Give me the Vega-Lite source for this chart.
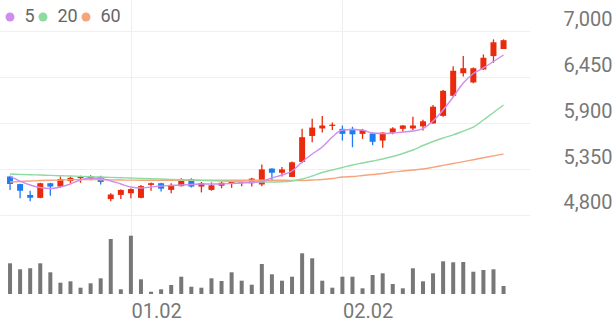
{
  "$schema": "https://vega.github.io/schema/vega-lite/v6.json",
  "width": 530,
  "height": 294,
  "autosize": {"type": "none"},
  "padding": {"left": 0, "top": 0, "right": 86, "bottom": 27},
  "background": "white",
  "config": {
    "view": {"stroke": null},
    "font": "Roboto",
    "axisY": {
      "grid": true, "gridColor": "#f0f0f0", "domain": false, "ticks": false,
      "labelPadding": 82, "labelAlign": "right", "labelBaseline": "alphabetic",
      "labelOffset": -6, "labelFontSize": 20, "labelColor": "#777777", "title": null
    }
  },
  "data": {"values": [
    {"i":0,"o":5260,"h":5270,"l":5100,"c":5170,"v":307,"m5":5266,"m20":5290,"m60":5194},
    {"i":1,"o":5170,"h":5175,"l":5000,"c":5090,"v":247,"m5":5206,"m20":5286,"m60":5200},
    {"i":2,"o":5040,"h":5090,"l":4965,"c":5005,"v":257,"m5":5159,"m20":5282,"m60":5206},
    {"i":3,"o":5005,"h":5185,"l":5000,"c":5180,"v":307,"m5":5129,"m20":5278,"m60":5212},
    {"i":4,"o":5180,"h":5185,"l":5030,"c":5140,"v":217,"m5":5117,"m20":5274,"m60":5216},
    {"i":5,"o":5140,"h":5260,"l":5125,"c":5230,"v":113,"m5":5135,"m20":5270,"m60":5218},
    {"i":6,"o":5205,"h":5260,"l":5180,"c":5245,"v":127,"m5":5171,"m20":5266,"m60":5221},
    {"i":7,"o":5240,"h":5270,"l":5185,"c":5255,"v":63,"m5":5219,"m20":5262,"m60":5223},
    {"i":8,"o":5230,"h":5275,"l":5215,"c":5265,"v":107,"m5":5243,"m20":5258,"m60":5224},
    {"i":9,"o":5255,"h":5270,"l":5165,"c":5195,"v":157,"m5":5237,"m20":5254,"m60":5222},
    {"i":10,"o":4990,"h":5060,"l":4965,"c":5045,"v":550,"m5":5207,"m20":5250,"m60":5220},
    {"i":11,"o":5040,"h":5105,"l":4990,"c":5100,"v":47,"m5":5171,"m20":5246,"m60":5218},
    {"i":12,"o":5060,"h":5120,"l":5000,"c":5110,"v":583,"m5":5135,"m20":5242,"m60":5217},
    {"i":13,"o":5005,"h":5160,"l":5000,"c":5145,"v":147,"m5":5123,"m20":5238,"m60":5216},
    {"i":14,"o":5160,"h":5190,"l":5090,"c":5180,"v":23,"m5":5135,"m20":5234,"m60":5216},
    {"i":15,"o":5180,"h":5185,"l":5080,"c":5115,"v":47,"m5":5147,"m20":5230,"m60":5216},
    {"i":16,"o":5100,"h":5180,"l":5060,"c":5160,"v":90,"m5":5153,"m20":5226,"m60":5216},
    {"i":17,"o":5145,"h":5240,"l":5140,"c":5230,"v":173,"m5":5159,"m20":5222,"m60":5216},
    {"i":18,"o":5230,"h":5240,"l":5130,"c":5140,"v":73,"m5":5165,"m20":5218,"m60":5216},
    {"i":19,"o":5140,"h":5195,"l":5070,"c":5180,"v":63,"m5":5171,"m20":5214,"m60":5216},
    {"i":20,"o":5100,"h":5190,"l":5090,"c":5155,"v":157,"m5":5171,"m20":5210,"m60":5216},
    {"i":21,"o":5150,"h":5200,"l":5120,"c":5185,"v":130,"m5":5171,"m20":5206,"m60":5216},
    {"i":22,"o":5180,"h":5205,"l":5125,"c":5195,"v":217,"m5":5177,"m20":5202,"m60":5216},
    {"i":23,"o":5185,"h":5205,"l":5145,"c":5195,"v":133,"m5":5183,"m20":5198,"m60":5216},
    {"i":24,"o":5180,"h":5245,"l":5140,"c":5235,"v":93,"m5":5189,"m20":5194,"m60":5216},
    {"i":25,"o":5165,"h":5405,"l":5145,"c":5345,"v":300,"m5":5201,"m20":5195,"m60":5216},
    {"i":26,"o":5355,"h":5360,"l":5210,"c":5305,"v":197,"m5":5243,"m20":5195,"m60":5216},
    {"i":27,"o":5305,"h":5375,"l":5260,"c":5345,"v":133,"m5":5278,"m20":5197,"m60":5215},
    {"i":28,"o":5255,"h":5440,"l":5255,"c":5430,"v":173,"m5":5326,"m20":5207,"m60":5214},
    {"i":29,"o":5435,"h":5830,"l":5420,"c":5730,"v":407,"m5":5434,"m20":5230,"m60":5212},
    {"i":30,"o":5745,"h":5950,"l":5670,"c":5845,"v":357,"m5":5529,"m20":5266,"m60":5218},
    {"i":31,"o":5835,"h":5985,"l":5785,"c":5870,"v":133,"m5":5613,"m20":5308,"m60":5224},
    {"i":32,"o":5865,"h":5905,"l":5815,"c":5880,"v":63,"m5":5733,"m20":5338,"m60":5236},
    {"i":33,"o":5830,"h":5870,"l":5690,"c":5770,"v":173,"m5":5816,"m20":5368,"m60":5254},
    {"i":34,"o":5830,"h":5855,"l":5610,"c":5765,"v":173,"m5":5822,"m20":5398,"m60":5260},
    {"i":35,"o":5770,"h":5830,"l":5710,"c":5815,"v":57,"m5":5816,"m20":5422,"m60":5272},
    {"i":36,"o":5775,"h":5785,"l":5635,"c":5675,"v":190,"m5":5780,"m20":5446,"m60":5284},
    {"i":37,"o":5690,"h":5790,"l":5605,"c":5785,"v":207,"m5":5774,"m20":5470,"m60":5296},
    {"i":38,"o":5785,"h":5850,"l":5765,"c":5835,"v":100,"m5":5780,"m20":5500,"m60":5314},
    {"i":39,"o":5830,"h":5875,"l":5795,"c":5870,"v":57,"m5":5792,"m20":5535,"m60":5326},
    {"i":40,"o":5835,"h":5975,"l":5815,"c":5870,"v":257,"m5":5804,"m20":5577,"m60":5338},
    {"i":41,"o":5860,"h":5940,"l":5810,"c":5920,"v":127,"m5":5834,"m20":5631,"m60":5350},
    {"i":42,"o":5895,"h":6115,"l":5890,"c":6095,"v":207,"m5":5924,"m20":5679,"m60":5370},
    {"i":43,"o":5985,"h":6295,"l":5975,"c":6285,"v":327,"m5":6055,"m20":5721,"m60":5393},
    {"i":44,"o":6225,"h":6580,"l":6215,"c":6525,"v":317,"m5":6211,"m20":5757,"m60":5416},
    {"i":45,"o":6495,"h":6700,"l":6455,"c":6555,"v":320,"m5":6378,"m20":5804,"m60":5438},
    {"i":46,"o":6385,"h":6565,"l":6375,"c":6555,"v":223,"m5":6492,"m20":5852,"m60":5461},
    {"i":47,"o":6540,"h":6720,"l":6535,"c":6680,"v":240,"m5":6558,"m20":5936,"m60":5484},
    {"i":48,"o":6700,"h":6900,"l":6620,"c":6865,"v":247,"m5":6635,"m20":6026,"m60":5507},
    {"i":49,"o":6785,"h":6900,"l":6785,"c":6890,"v":80,"m5":6713,"m20":6115,"m60":5529}
  ]},
  "encoding": {
    "x": {
      "field": "i", "type": "quantitative",
      "scale": {"domain": [-0.5, 51.13], "nice": false, "zero": false},
      "axis": {
        "values": [12, 33],
        "labelExpr": "datum.value == 12 ? '01.02' : '02.02'",
        "grid": true, "gridColor": "#eeeeee", "gridWidth": 1,
        "domain": false, "ticks": false,
        "labelAlign": "left", "labelBaseline": "top", "labelPadding": 7,
        "labelFontSize": 20, "labelColor": "#777777", "labelFlush": false,
        "title": null
      }
    }
  },
  "layer": [
    {
      "layer": [
        {
          "mark": {"type": "rule", "strokeWidth": 1.3},
          "encoding": {
            "y": {
              "field": "l", "type": "quantitative",
              "scale": {"domain": [3855.4, 7370.7], "nice": false, "zero": false},
              "axis": {"orient": "right", "values": [4800, 5350, 5900, 6450, 7000], "format": ",.0f"}
            },
            "y2": {"field": "h"},
            "color": {"condition": {"test": "datum.c >= datum.o", "value": "#ea2a0c"}, "value": "#1d7cf2"}
          }
        },
        {
          "mark": {"type": "bar", "width": 6},
          "encoding": {
            "y": {"field": "o", "type": "quantitative", "scale": {"domain": [3855.4, 7370.7], "nice": false, "zero": false},
              "axis": {"orient": "right", "values": [4800, 5350, 5900, 6450, 7000], "format": ",.0f"}},
            "y2": {"field": "c"},
            "color": {"condition": {"test": "datum.c >= datum.o", "value": "#ea2a0c"}, "value": "#1d7cf2"}
          }
        },
        {
          "mark": {"type": "line", "strokeWidth": 1.4, "interpolate": "monotone"},
          "encoding": {
            "y": {"field": "m60", "type": "quantitative", "scale": {"domain": [3855.4, 7370.7], "nice": false, "zero": false},
              "axis": {"orient": "right", "values": [4800, 5350, 5900, 6450, 7000], "format": ",.0f"}},
            "color": {"datum": "60", "type": "nominal"}
          }
        },
        {
          "mark": {"type": "line", "strokeWidth": 1.4, "interpolate": "monotone"},
          "encoding": {
            "y": {"field": "m20", "type": "quantitative", "scale": {"domain": [3855.4, 7370.7], "nice": false, "zero": false},
              "axis": {"orient": "right", "values": [4800, 5350, 5900, 6450, 7000], "format": ",.0f"}},
            "color": {"datum": "20", "type": "nominal"}
          }
        },
        {
          "mark": {"type": "line", "strokeWidth": 1.4, "interpolate": "monotone"},
          "encoding": {
            "y": {"field": "m5", "type": "quantitative", "scale": {"domain": [3855.4, 7370.7], "nice": false, "zero": false},
              "axis": {"orient": "right", "values": [4800, 5350, 5900, 6450, 7000], "format": ",.0f"}},
            "color": {
              "datum": "5", "type": "nominal",
              "scale": {"domain": ["5", "20", "60"], "range": ["#cf8df0", "#8fdaa0", "#f6a47c"]},
              "legend": {
                "orient": "none", "legendX": 1, "legendY": 8, "direction": "horizontal",
                "title": null, "symbolType": "circle", "symbolSize": 80,
                "symbolStrokeWidth": 0, "labelFontSize": 18, "labelColor": "#666666",
                "columnPadding": -1, "labelOffset": 5.5, "padding": 0, "gridAlign": "none",
                "encode": {"symbols": {"update": {"fill": {"scale": "color", "field": "value"}, "fillOpacity": {"value": 1}}}}
              }
            }
          }
        },
        {
          "data": {"values": [{}]},
          "mark": {"type": "rule", "color": "#e6e6e6", "strokeWidth": 1},
          "encoding": {
            "x": {"datum": -0.5},
            "x2": {"datum": 60},
            "y": {"datum": 4800, "type": "quantitative", "scale": {"domain": [3855.4, 7370.7], "nice": false, "zero": false},
              "axis": {"orient": "right", "values": [4800, 5350, 5900, 6450, 7000], "format": ",.0f"}}
          }
        }
      ]
    },
    {
      "layer": [
        {
          "mark": {"type": "bar", "width": 4, "color": "#777777"},
          "encoding": {
            "y": {"field": "v", "type": "quantitative", "scale": {"domain": [0, 2940], "nice": false}, "axis": null}
          }
        },
        {
          "data": {"values": [{}]},
          "mark": {"type": "rule", "color": "#e3e3e3", "strokeWidth": 1.5},
          "encoding": {
            "x": {"datum": -0.5},
            "x2": {"datum": 60},
            "y": {"datum": 0, "type": "quantitative", "scale": {"domain": [0, 2940], "nice": false}, "axis": null}
          }
        }
      ]
    }
  ],
  "resolve": {"scale": {"y": "independent"}}
}
